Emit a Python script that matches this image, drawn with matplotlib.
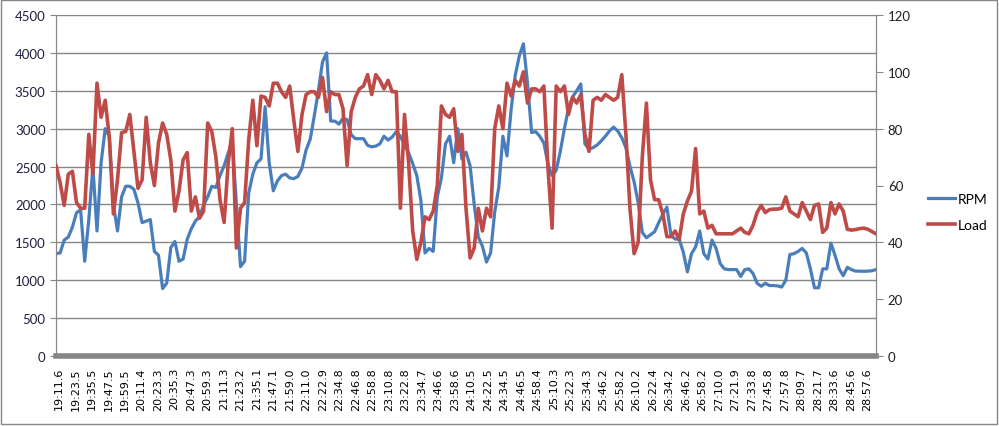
import numpy as np
import matplotlib
matplotlib.use("Agg")
import matplotlib.pyplot as plt
from matplotlib.patches import Rectangle

# category labels shown on the x axis
time_labels = ["19:11.6", "19:23.5", "19:35.5", "19:47.5", "19:59.5", "20:11.4", "20:23.3",
               "20:35.3", "20:47.3", "20:59.3", "21:11.3", "21:23.2", "21:35.1", "21:47.1",
               "21:59.0", "22:11.0", "22:22.9", "22:34.8", "22:46.8", "22:58.8", "23:10.8",
               "23:22.8", "23:34.7", "23:46.6", "23:58.6", "24:10.5", "24:22.5", "24:34.5",
               "24:46.5", "24:58.4", "25:10.3", "25:22.3", "25:34.3", "25:46.2", "25:58.2",
               "26:10.2", "26:22.4", "26:34.2", "26:46.2", "26:58.2", "27:10.0", "27:21.9",
               "27:33.8", "27:45.8", "27:57.8", "28:09.7", "28:21.7", "28:33.6", "28:45.6",
               "28:57.6"]

# engine speed (left axis)
rpm = [1350, 1360, 1530, 1570, 1700, 1890, 1930, 1250, 1800, 2500,
       1650, 2550, 3000, 2900, 2000, 1650, 2100, 2240, 2240, 2200,
       2020, 1760, 1780, 1800, 1380, 1330, 890, 960, 1430, 1510,
       1250, 1280, 1540, 1680, 1780, 1840, 1990, 2100, 2240, 2225,
       2380, 2510, 2680, 2830, 2000, 1180, 1250, 2150, 2400, 2550,
       2600, 3290, 2550, 2180, 2310, 2380, 2400, 2350, 2340, 2370,
       2480, 2720, 2860, 3170, 3500, 3880, 4000, 3100, 3100, 3060,
       3136, 3120, 2920, 2868, 2868, 2868, 2780, 2760, 2770, 2800,
       2900, 2850, 2890, 2960, 2900, 2780, 2680, 2540, 2380, 2050,
       1360, 1420, 1380, 2100, 2350, 2800, 2900, 2550, 3000, 2600,
       2690, 2510, 2000, 1570, 1450, 1240, 1360, 1900, 2230, 2900,
       2640, 3250, 3700, 3960, 4120, 3600, 2950, 2960, 2900, 2810,
       2530, 2380, 2450, 2700, 3000, 3270, 3420, 3500, 3590, 2800,
       2730, 2750, 2785, 2840, 2900, 2970, 3020, 2970, 2880, 2750,
       2500, 2300, 2020, 1630, 1560, 1600, 1640, 1760, 1870, 1965,
       1590, 1544, 1540, 1370, 1110, 1350, 1440, 1650, 1350, 1280,
       1530, 1420, 1220, 1150, 1140, 1140, 1140, 1050, 1140, 1150,
       1090, 960, 920, 960, 930, 930, 925, 910, 1000, 1340,
       1350, 1380, 1420, 1360, 1150, 900, 900, 1150, 1150, 1490,
       1330, 1150, 1060, 1170, 1140, 1120, 1120, 1118, 1120, 1125,
       1140]

# engine load (right axis)
load = [67, 61, 53, 64, 65, 54, 52, 52, 78, 64,
        96, 84, 90, 77, 50, 62, 78.6, 79, 85, 72,
        59, 62, 84, 68, 60, 75, 82, 78, 69, 51,
        58, 69, 71.6, 51, 56, 48.5, 51, 82, 79, 70,
        55, 47, 68, 80, 38, 52, 54, 76, 90, 74,
        91.5, 91, 88, 96, 96, 93, 91, 95, 83, 72,
        85, 92, 93, 93, 91, 98, 86, 93, 92, 92,
        87, 67, 86, 91, 94, 95, 99, 92, 99, 97,
        94, 97, 93, 93, 52, 85, 68, 44, 34, 40,
        49, 48, 51, 60, 88, 85, 84, 87, 72, 78,
        52, 34.5, 38, 52, 44, 52, 49, 80, 88, 80,
        96, 91.5, 97, 95, 100, 89, 94, 94, 93, 95,
        66, 45, 95, 93, 95, 85, 91, 89, 92, 78,
        72, 90, 91, 90, 92, 91, 90, 91, 99, 78,
        51.7, 36, 40, 70, 89, 62, 55, 55, 50, 42,
        42, 44, 41, 50, 54.5, 58, 73, 50, 51, 45,
        46, 43, 43, 43, 43, 43, 44, 45, 43.5, 43,
        46, 50.5, 53, 50.5, 51.5, 51.7, 51.7, 52, 56, 51,
        50, 49, 54, 51, 48, 53, 53.5, 43.5, 45, 54,
        50, 53.5, 51, 44.6, 44.3, 44.5, 44.8, 45, 44.6, 43.8,
        43]

BLUE = "#4A7EBB"
RED = "#BE4B48"
GREY = "#868686"

x = np.arange(len(rpm))

fig = plt.figure(figsize=(9.99, 4.27), dpi=100)
ax = fig.add_axes([56 / 999, 1 - 357 / 427, 820 / 999, 341 / 427])
ax2 = ax.twinx()

ax.plot(x, rpm, color=BLUE, lw=2.3, solid_joinstyle="round", zorder=3, label="RPM")
ax2.plot(x, load, color=RED, lw=2.6, solid_joinstyle="round", zorder=3, label="Load")

ax.set_xlim(0, len(rpm) - 1)
ax.set_ylim(0, 4500)
ax.set_yticks(np.arange(0, 4501, 500))
ax2.set_ylim(0, 120)
ax2.set_yticks(np.arange(0, 121, 20))

ax.grid(axis="y", color=GREY, lw=1)
ax.set_axisbelow(True)

ticks = np.linspace(0.73, len(rpm) - 3.1, len(time_labels))
ax.set_xticks(ticks)
ax.set_xticklabels(time_labels, rotation=90, fontsize=8, family="DejaVu Sans")
ax.tick_params(axis="x", length=0, pad=8)
ax.tick_params(axis="y", length=4, color=GREY, labelsize=9.5, labelcolor="#1F1F3F")
ax2.tick_params(axis="y", length=5, color=GREY, labelsize=9.5, labelcolor="#1F1F1F")
for lab in ax.get_yticklabels() + ax2.get_yticklabels():
    lab.set_family("Lato")

for a in (ax, ax2):
    a.spines["top"].set_visible(False)
    a.spines["left"].set_color(GREY)
    a.spines["right"].set_color(GREY)
    a.spines["bottom"].set_visible(False)
ax.spines["bottom"].set_visible(True)
ax.spines["bottom"].set_color(GREY)
ax.spines["bottom"].set_linewidth(4)

h1, l1 = ax.get_legend_handles_labels()
h2, l2 = ax2.get_legend_handles_labels()
fig.legend(h1 + h2, l1 + l2, loc="center left", bbox_to_anchor=(915 / 999, 1 - 213 / 427),
           frameon=False, prop={"family": "Lato", "size": 10}, handlelength=2.0,
           handletextpad=0.2, labelspacing=1.0)

fig.patches.append(Rectangle((1 / 999, 2 / 427), 996 / 999, 424 / 427, transform=fig.transFigure,
                             fill=False, ec=GREY, lw=1))

fig.savefig("out.png", dpi=100)
